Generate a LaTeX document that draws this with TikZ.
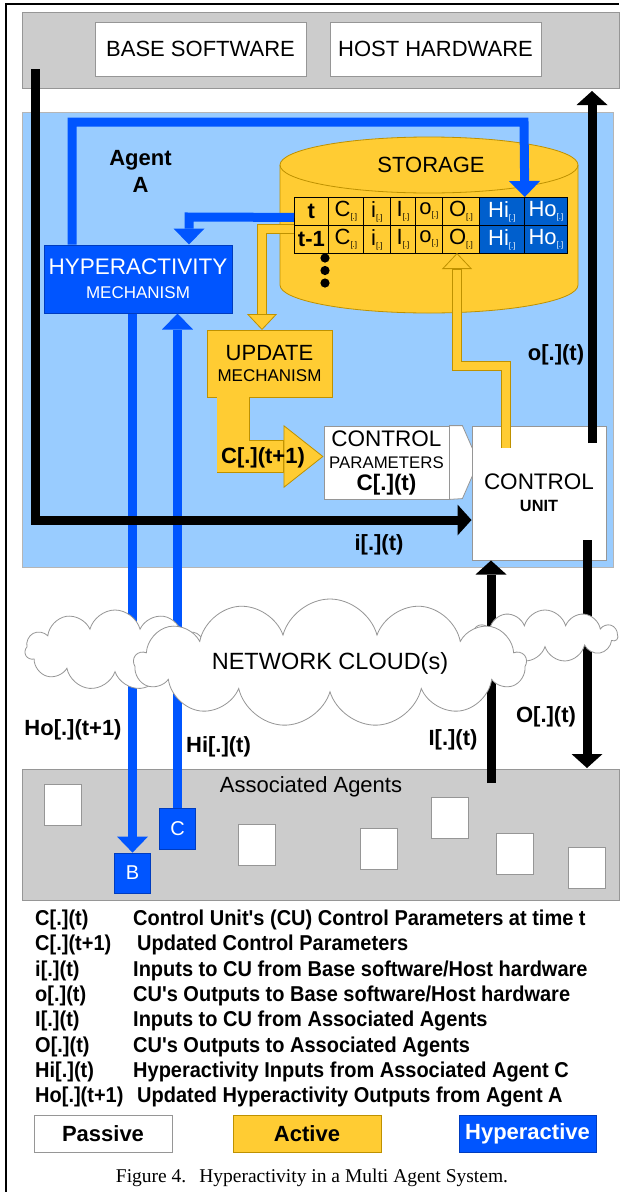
\documentclass[tikz,border=0pt]{standalone}
\usepackage{fontspec}
\setmainfont{Liberation Sans}
\newfontfamily\capfont{Liberation Serif}
\usetikzlibrary{arrows.meta,shapes.symbols,calc}
\definecolor{lblue}{RGB}{153,204,255}
\definecolor{gband}{RGB}{204,204,204}
\definecolor{gline}{RGB}{150,150,150}
\definecolor{ycol}{RGB}{255,204,51}
\definecolor{ydark}{RGB}{190,145,0}
\definecolor{hblue}{RGB}{0,85,255}
\definecolor{hdark}{RGB}{0,60,190}
\definecolor{cblue}{RGB}{0,95,205}
\newcommand{\fsz}[1]{\fontsize{#1}{#1}\selectfont}
\newcommand{\fszb}[2]{\fontsize{#1}{#2}\selectfont}
\newcommand{\sub}{\raisebox{-3pt}{\fsz{8}[.]}}
\newcommand{\apos}{\textquotesingle}
\newcommand{\nar}[1]{\scalebox{0.93}[1]{#1}}
\tikzset{
  box/.style={draw=gline, line width=0.8pt, inner sep=0pt, align=center},
  wbox/.style={box, fill=white},
  bwire/.style={line width=9pt, draw=black, -{Triangle[width=31pt,length=14pt,line width=0pt]}},
  hwire/.style={line width=9pt, draw=hblue, -{Triangle[width=31pt,length=16pt,line width=0pt]}},
  ywire/.style={line width=10pt, draw=ydark, -{Triangle[width=30pt,length=16pt,fill=ycol,line width=0.8pt]},
    postaction={draw=ycol, line width=8.4pt, arrows=-, shorten >=16.5pt}},
  yblock/.style={line width=33pt, draw=ydark, -{Triangle[width=63pt,length=40pt,fill=ycol,line width=0.8pt]},
    postaction={draw=ycol, line width=31.4pt, arrows=-, shorten >=40.5pt}},
  cell/.style={draw=black, line width=0.8pt, anchor=north west, inner sep=0pt, minimum height=28pt, font=\fsz{22}},
  hcell/.style={cell, fill=cblue, text=white},
  lbl/.style={font=\fsz{22}\bfseries, inner sep=0pt},
  cloudy/.style={cloud, cloud puffs=11, cloud ignores aspect, draw=gline, fill=white, line width=0.8pt, inner sep=0pt},
  legl/.style={anchor=west, inner sep=0pt, font=\fsz{21.5}\bfseries},
  agentsq/.style={wbox, minimum width=37pt, minimum height=41pt},
  hbox/.style={draw=hdark, line width=0.8pt, fill=hblue, text=white, inner sep=0pt, align=center},
}
\begin{document}
\begin{tikzpicture}[x=1pt,y=-1pt]
\useasboundingbox (0,0) rectangle (619,1192);
\fill[white] (0,0) rectangle (619,1192);
\draw[line width=2pt] (6,1192) -- (6,4) -- (619,4);

% top band
\node[box, fill=gband, minimum width=597pt, minimum height=76pt] (topband) at (320.5,50) {};
\node[wbox, minimum width=211pt, minimum height=54pt, font=\fsz{22}] (basesw) at (200.5,49) {BASE SOFTWARE};
\node[wbox, minimum width=211pt, minimum height=54pt, font=\fsz{22}] (hosthw) at (435.5,49) {HOST HARDWARE};

% agent region
\node[draw=gline!70, fill=lblue, line width=0.6pt, minimum width=591pt, minimum height=455pt, inner sep=0pt] (agent) at (317.5,339.5) {};

% associated agents band
\node[box, fill=gband, minimum width=597pt, minimum height=131pt] (assoc) at (320.5,834.5) {};
\node[font=\fsz{22}, inner sep=0pt] (assoclbl) at (311,787) {Associated Agents};
\node[agentsq] (a1) at (62.5,804.5) {};
\node[agentsq] (a2) at (256.5,845) {};
\node[agentsq] (a3) at (378.5,849) {};
\node[agentsq] (a4) at (449.5,817.5) {};
\node[agentsq] (a5) at (514.5,853.5) {};
\node[agentsq] (a6) at (586.5,867.5) {};
\node[hbox, minimum width=36pt, minimum height=40pt, font=\fsz{20}] (B) at (132.5,873) {B};
\node[hbox, minimum width=36pt, minimum height=41pt, font=\fsz{20}] (C) at (177.5,828.5) {C};

% storage cylinder
\draw[draw=ydark, fill=ycol, line width=0.8pt]
  (280,165) -- (280,285) arc[start angle=180, end angle=0, x radius=149, y radius=28]
  -- (578,165) arc[start angle=0, end angle=-180, x radius=149, y radius=28] -- cycle;
\draw[draw=ydark, line width=0.8pt] (280,165) arc[start angle=180, end angle=0, x radius=149, y radius=28];
\node[font=\fsz{22}, inner sep=0pt] (storage) at (431,165) {STORAGE};

% storage table
\foreach \r/\lab in {0/t,1/t-1} {
  \pgfmathsetmacro\yy{197+28*\r}
  \node[cell, minimum width=34pt, font=\fsz{22}\bfseries] (k\r) at (294,\yy) {\lab};
  \node[cell, minimum width=35pt] (c\r) at (328,\yy) {C\sub};
  \node[cell, minimum width=27pt] (i\r) at (363,\yy) {i\sub};
  \node[cell, minimum width=25pt] (I\r) at (390,\yy) {I\sub};
  \node[cell, minimum width=27pt] (o\r) at (415,\yy) {o\sub};
  \node[cell, minimum width=37pt] (O\r) at (442,\yy) {O\sub};
  \node[hcell, minimum width=45pt] (hi\r) at (479,\yy) {Hi\sub};
  \node[hcell, minimum width=43pt] (ho\r) at (524,\yy) {Ho\sub};
}
\fill (325,258) circle[radius=4.6] (325,270.5) circle[radius=4.6] (325,283) circle[radius=4.6];

% mechanism boxes
\node[hbox, minimum width=188pt, minimum height=68pt, font=\fszb{22.5}{24}] (hyper) at (138,279)
  {HYPERACTIVITY\\{\fsz{17}MECHANISM}};
\node[draw=ydark, fill=ycol, line width=0.8pt, inner sep=0pt, align=center, minimum width=125pt, minimum height=67pt, font=\fszb{22}{21}] (update) at (269.5,363.5)
  {UPDATE\\{\fsz{17}MECHANISM}};
\node[wbox, minimum width=125pt, minimum height=73pt, font=\fszb{22.5}{22}] (cp) at (386.5,462.5)
  {CONTROL\\{\fsz{16.8}PARAMETERS}\\{\bfseries C[.](t)}};
\draw[draw=gline, fill=white, line width=0.8pt] (cp.north east) -- ++(13,0) -- ++(16,36.5) -- ++(-16,36.5) -- (cp.south east) -- cycle;
\node[wbox, minimum width=134pt, minimum height=134pt, font=\fszb{22.5}{22}] (cu) at (539,493)
  {CONTROL\\{\fsz{16.3}\bfseries UNIT}};

% helper coordinates
\coordinate (yin) at (323.5,456.5);
\coordinate (hyin) at (189,244.5);
\coordinate (hytop) at (72,244.5);
\coordinate (hyboth) at (132.5,313.5);
\coordinate (hybotc) at (177.5,313.5);
\coordinate (iin) at (471.5,520);
\coordinate (Iin) at (491,560.5);

% yellow connectors
\draw[ywire] ($(k1.north west)+(0,4)$) -- (262,229) -- (262,330);
\draw[ywire] (506,448) -- (506,366) -- (457,366) -- (457,253);
\draw[yblock] (233,397) -- (233,456.5) -- (yin);
\node[lbl] (cnext) at (263,458) {C[.](t+1)};

% blue connectors
\draw[hwire] (hytop) -- (72,122) -- (524,122) -- (hi0.north east);
\draw[hwire] ($(k0.west)+(0,6)$) -- (189,217) -- (hyin);
\draw[hwire] (hyboth) -- (B.north);
\draw[hwire] (C.north) -- (hybotc);

% black connectors
\coordinate (bsout) at (35,69);
\draw[bwire] (bsout) -- (35,520) -- (iin);
\draw[bwire] (592,443) -- (592,91);
\coordinate (Ifrom) at (491,783);
\draw[bwire] (Ifrom) -- (Iin);
\draw[bwire] (587,540) -- (587,768);

% clouds
\node[cloudy, minimum width=180pt, minimum height=80pt] (cloudL) at (115,650) {};
\node[cloudy, minimum width=145pt, minimum height=52pt] (cloudR) at (545,636) {};
\node[cloudy, cloud puffs=13, minimum width=392pt, minimum height=128pt, font=\fsz{23.5}] (cloudC) at (330,663) {NETWORK CLOUD(s)};

% labels
\node[lbl, align=center, font=\fszb{22}{27}\bfseries] (agentA) at (140.5,171) {Agent\\A};
\node[lbl] (lo) at (556,355) {o[.](t)};
\node[lbl] (li) at (379,545) {i[.](t)};
\node[lbl] (lHo) at (73,730) {Ho[.](t+1)};
\node[lbl] (lHi) at (218.5,747) {Hi[.](t)};
\node[lbl] (lI) at (453,740) {I[.](t)};
\node[lbl] (lO) at (546,717) {O[.](t)};

% legend
\node[legl] (l1) at (35,920) {\nar{C[.](t)}};
\node[legl] (d1) at (133,920) {\nar{Control Unit\apos s (CU) Control Parameters at time t}};
\node[legl] (l2) at (35,945.3) {\nar{C[.](t+1)}};
\node[legl] (d2) at (137,945.3) {\nar{Updated Control Parameters}};
\node[legl] (l3) at (35,970.6) {\nar{i[.](t)}};
\node[legl] (d3) at (133,970.6) {\nar{Inputs to CU from Base software/Host hardware}};
\node[legl] (l4) at (35,995.9) {\nar{o[.](t)}};
\node[legl] (d4) at (133,995.9) {\nar{CU\apos s Outputs to Base software/Host hardware}};
\node[legl] (l5) at (35,1021.2) {\nar{I[.](t)}};
\node[legl] (d5) at (133,1021.2) {\nar{Inputs to CU from Associated Agents}};
\node[legl] (l6) at (35,1046.5) {\nar{O[.](t)}};
\node[legl] (d6) at (133,1046.5) {\nar{CU\apos s Outputs to Associated Agents}};
\node[legl] (l7) at (35,1071.8) {\nar{Hi[.](t)}};
\node[legl] (d7) at (133,1071.8) {\nar{Hyperactivity Inputs from Associated Agent C}};
\node[legl] (l8) at (35,1097.1) {\nar{Ho[.](t+1)}};
\node[legl] (d8) at (137,1097.1) {\nar{Updated Hyperactivity Outputs from Agent A}};

\node[wbox, minimum width=138pt, minimum height=37pt, font=\fsz{22}\bfseries] (passive) at (103,1133.5) {Passive};
\node[draw=ydark, fill=ycol, line width=0.8pt, inner sep=0pt, minimum width=148pt, minimum height=37pt, font=\fsz{22}\bfseries] (active) at (307,1133.5) {Active};
\node[hbox, minimum width=137pt, minimum height=37pt, font=\fsz{22}\bfseries] (hyperactive) at (527.5,1133.5) {Hyperactive};

\node[inner sep=0pt, font=\capfont\fsz{19.5}] (caption) at (312,1178) {Figure 4.\hspace{13pt}Hyperactivity in a Multi Agent System.};
\end{tikzpicture}
\end{document}
